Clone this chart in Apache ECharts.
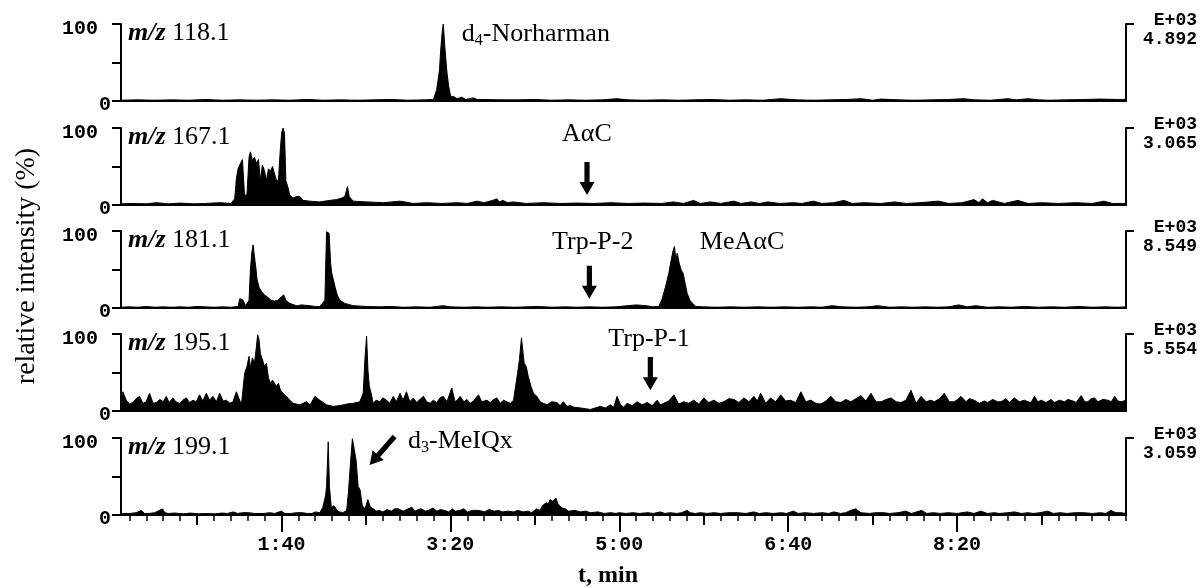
<!DOCTYPE html>
<html>
<head>
<meta charset="utf-8">
<script src="https://cdn.jsdelivr.net/npm/echarts@6/dist/echarts.min.js"></script>
<style>
  html, body { margin: 0; background: #fff; }
  #chart { width: 1202px; height: 588px; }
</style>
</head>
<body>
<div id="chart"></div>
<script>
// ---- data (time in s, relative intensity in %) ----
const mzLabels = ['118.1', '167.1', '181.1', '195.1', '199.1']
const scaleLabels = ['4.892', '3.065', '8.549', '5.554', '3.059']
const scaleExp = 'E+03'
const majorTicks = [100, 200, 300, 400, 500]
const halfTicks = [50, 150, 250, 350, 450, 550]
const minorTicks = [10, 20, 30, 40, 60, 70, 80, 90, 110, 120, 130, 140, 160, 170, 180, 190,
  210, 220, 230, 240, 260, 270, 280, 290, 310, 320, 330, 340, 360, 370, 380, 390,
  410, 420, 430, 440, 460, 470, 480, 490, 510, 520, 530, 540, 560, 570, 580, 590, 600]
const yLabelTicks = [0, 100]
const yTicks = [0, 50, 100]

const trace118 = [[5,1],[15,1.5],[25,1],[35,1.5],[45,1],[55,2],[65,1],[75,1.5],[85,1],[95,1.5],[105,1],[115,2],
  [125,1],[135,1.5],[145,1],[155,1.5],[165,2],[175,1],[185,1.5],[190,2],[191.9,15],[193.5,39],[194.3,67],
  [195.1,88],[195.8,100],[196.7,71],[197.9,39],[199,19],[200.2,6],[201.8,6],[204,3],[206.8,5],[209,2],[213.6,4],
  [216,2],[220,2],[230,1.5],[240,1.5],[250,2],[260,1],[270,1.5],[280,1],[290,1.5],[298.7,3],[305,1.5],[315,1],
  [325,1.5],[335,1],[345,1.5],[355,2],[365,1],[375,1.5],[385,1],[395.5,3],[405,1.5],[415,1],[425,1.5],[435,2],
  [443,3],[450,1],[455,2.5],[465,1.5],[475,1],[485,1.5],[495,2],[504,3],[510,1.5],[520,1],[530,3],[535,1.5],
  [542,3],[548,1.5],[555,1],[565,1.5],[575,2],[585,2.5],[595,2],[600,2]]

const trace167 = [[5,1.5],[12,2],[20,1.5],[26,3],[33,1.5],[40,2.5],[48,1.5],[55,2],[63.5,3],[70,2],[72.3,8],
  [73.3,34],[74.3,47],[75.7,54],[76.9,59],[78.2,11],[79.6,15],[80.8,62],[81.6,69],[82.8,58],[84,62],[85.2,54],
  [86.4,59],[87.5,32],[88.7,52],[89.9,45],[91.1,32],[92.3,47],[93.5,44],[94.7,50],[95.8,52],[97,32],[98.2,32],
  [99.4,75],[100.2,95],[101,100],[101.8,93],[102.6,32],[103.7,24],[104.9,13],[106.9,9],[108.9,11],[110.9,11],
  [112.8,6],[116.8,5],[122.7,4],[128.6,6],[132.6,7],[135.6,9],[137.5,11],[139.1,24],[140.1,11],[142.5,5],
  [150.4,4],[160.3,3],[170.2,5],[178,2],[186,3],[195,2],[204,3],[210,2],[215.7,5],[220,3],[225,6],[227.5,8],
  [229,4],[231,6],[234,3],[237,4],[245,2],[255,3],[265,2],[275,2.5],[285,2],[295,3],[305,2],[315,2.5],[325,2],
  [332,4],[338,2],[344,6],[348,2],[354,4],[360,2],[368,5],[372,2],[378,4],[383,2],[388,4],[395,2],[403,3],
  [408,2],[415,5],[420,2],[427,3],[433,6],[438,2],[445,3],[455,2],[463,4],[470,2],[478,3],[489,5],[495,2],
  [503,3],[510,7],[513,3],[515,8],[518,3],[521,6],[528,2],[536,6],[542,2],[550,3],[560,2],[570,3],[580,2],
  [587,5],[592,2],[600,2]]

const trace181 = [[5,1],[10,1.5],[15,1],[20,2],[25,1],[30,1.5],[35,1],[40,1.5],[45,1],[50,2],[55,1.5],[60,1],
  [65,1.5],[70,1],[74.3,2],[75.3,12],[76.9,11],[78.8,3],[80.8,10],[81.6,49],[82.4,71],[83.2,82],[84,67],
  [84.8,53],[85.5,38],[86.7,27],[88.3,21],[89.9,17],[91.9,14],[93.8,10],[95.8,9],[97.8,10],[100.2,15],
  [101.4,17],[102.6,10],[104.9,6],[108.9,3],[112,4],[116.8,3],[120,2],[122.7,2],[125.7,10],[126.7,99],
  [127.5,99],[128.2,97],[129.1,58],[129.8,45],[130.6,43],[131.8,27],[133,17],[134.6,10],[137.5,6],[142.5,3],
  [150.4,2],[158,1.5],[165,2],[172,1],[180,1.5],[188,1],[195.7,3],[200,1.5],[208,1],[215,1.5],[222,1],
  [230,1.5],[238,1],[245,1.5],[252,2],[260,1],[268,1.5],[275,1],[282,1.5],[290,1],[298,1.5],[305,3],[310,4],
  [316,3],[320,1.5],[323.4,2],[325.4,12],[327.3,27],[329.3,45],[330.7,62],[331.9,75],[332.7,80],[333.5,62],
  [334.3,71],[335.5,58],[336.7,49],[337.8,45],[339,32],[340.2,19],[341.8,10],[343.4,6],[345.3,2],[350,1.5],
  [358,1],[366,1.5],[374,1],[382,1.5],[390,1],[398,1.5],[406,1],[414,1.5],[420,1],[426,3],[432,1.5],[440,1],
  [447,1.5],[453,3],[460,1],[467,1.5],[474,1],[481,1.5],[488,1],[495,1.5],[501,4],[506,1.5],[511,3],[518,1],
  [525,1.5],[532,1],[540,2],[548,1],[556,1.5],[564,1],[572,2],[580,1],[588,1.5],[595,1],[600,1.5]]

const trace195 = [[5,14],[6.1,25],[8.1,14],[10,9],[12,11],[14,16],[16,19],[18,10],[19.9,12],[21.9,23],[24,10],
  [25.9,11],[28,15],[30,12],[31.8,19],[33.5,11],[35.7,17],[37.5,12],[39.7,10],[41.5,14],[43.7,17],[45.5,11],
  [47.6,14],[49.5,12],[51.5,21],[53.5,13],[55.5,23],[57.5,14],[59.4,19],[61.5,12],[63.4,23],[65.5,13],
  [67.4,14],[69.5,10],[71.3,12],[73.3,25],[76.3,8],[78.2,49],[79.6,58],[80.8,71],[81.6,56],[82.8,69],[84,62],
  [85.2,84],[85.9,99],[86.7,93],[87.5,75],[88.7,67],[89.9,58],[91.1,62],[92.3,43],[93.5,36],[94.7,40],
  [95.8,38],[97,32],[98.2,36],[99.4,27],[101,23],[103,19],[104.9,14],[106.9,10],[110.9,8],[114.8,12],[117,8],
  [119.8,19],[122.7,14],[126.7,8],[130.6,6],[134.6,7],[138.6,9],[142.5,10],[146.4,12],[148.4,23],[149.4,67],
  [150.4,97],[151.2,53],[152,32],[153.1,23],[154.3,10],[156,14],[158.3,12],[160,17],[162.3,14],[164,10],
  [166.2,19],[168,12],[170.2,23],[172,14],[174,25],[176,12],[178.1,17],[180,11],[182,15],[184,19],[186,12],
  [188,10],[189.9,14],[192,11],[193.8,17],[195.8,19],[198,12],[200.8,30],[202.8,12],[204,14],[205.8,19],
  [208,12],[209.8,15],[211.7,10],[213.7,13],[216.6,21],[218.6,12],[221.6,14],[223.6,11],[225.6,15],
  [227.5,17],[229.5,10],[231.5,14],[233.5,12],[235.5,10],[237.4,14],[238.6,32],[239.8,49],[240.9,67],
  [242.1,95],[242.9,93],[243.7,62],[244.9,58],[246.1,45],[247.7,32],[249.2,23],[251.2,19],[253.2,12],[255,10],
  [257.2,8],[260,12],[263.1,11],[265,7],[267,12],[269,6],[271,7],[273,5],[276.9,4],[280,3],[282.9,2],
  [285.8,4],[288.8,6],[291.8,4],[294.7,8],[296.7,5],[298.7,19],[300.7,8],[302.6,5],[304.6,10],[307.6,7],
  [310.6,12],[313.5,8],[316.5,11],[319.5,7],[322.4,14],[324.4,8],[326.3,10],[329.3,13],[332.3,21],[335.2,9],
  [338.2,12],[341.1,10],[344.1,14],[347.1,9],[350.1,17],[353,11],[356,14],[359,10],[361.9,12],[364.9,16],
  [367.9,15],[370.8,11],[373.8,17],[376.8,12],[379.7,19],[381.7,13],[383.7,23],[386.7,10],[389.6,17],
  [392.6,12],[395.6,21],[398.5,13],[401.5,14],[404.5,11],[407.5,25],[410.4,12],[413.4,14],[416.4,10],
  [419.3,9],[422.3,13],[425.3,19],[428.2,12],[431.2,11],[434.1,15],[437.1,12],[440.1,16],[443.1,20],[446,13],
  [449,23],[452,12],[455,12],[458,15],[460.9,17],[463.9,12],[466.8,11],[469.7,14],[472.7,27],[475.7,10],
  [478.7,19],[481.6,12],[484.5,14],[486.5,12],[489.5,16],[492.4,23],[495.4,12],[498.3,12],[500.3,15],
  [502.3,19],[505.3,12],[507.2,16],[510.2,14],[513.2,10],[516.1,13],[518.1,11],[521.1,15],[524,12],[526,12],
  [529,16],[531,11],[533.9,17],[536.9,12],[539.8,14],[541.9,12],[543.8,11],[545.8,19],[547.8,12],[549.8,14],
  [552.7,11],[555.6,15],[557.6,11],[560.6,14],[563.6,12],[565.6,15],[568.6,13],[570.5,11],[573.5,20],
  [575.5,12],[577.4,12],[579.4,16],[581.4,17],[583.4,12],[586.3,15],[589.3,14],[591.3,12],[593.3,19],
  [595.2,13],[597.2,12],[600,14]]

const trace199 = [[5,2],[10.2,2],[14,3],[17,6],[19,2],[21.5,2],[25,3],[29.5,8],[31,3],[32.9,2],[37,2.5],[42,1.5],
  [46,2.5],[51.1,1.5],[55,2],[60.2,1.5],[65,2.5],[68,2],[71.5,4],[74,2],[77,3],[80.6,3],[84,2],[89.7,2],[93,3],
  [96,2],[100,5],[102,2],[105.6,2],[109,3],[112.5,3],[115,2],[118.1,2],[120,4],[122.7,3],[124.5,10],[126.1,25],
  [126.7,37],[127.7,95],[128.4,37],[129.5,10],[131.1,12],[132.9,6],[134.5,4],[136.3,3],[138.6,6],[139.7,31],
  [140.9,69],[142,99],[143.1,97],[144.2,71],[145.4,37],[146.5,33],[147.9,12],[149.5,8],[151.1,20],[152.7,10],
  [154.5,8],[156,5],[157.9,6],[160,4],[162.5,7],[165,5],[167,8],[169.3,8],[172,5],[174,7],[177.2,10],[179,5],
  [181,7],[182.9,8],[185,5],[187,6],[189.7,9],[192,5],[194,7],[196.5,6],[199,4],[201.1,8],[203,5],[205.6,6],
  [208,8],[210,4],[213,6],[217,6],[220,4],[223,7],[226,5],[228.4,6],[231,4],[234,5],[237.4,4],[240,6],[243,4],
  [246,5],[248,3],[251.1,8],[253,6],[254.5,12],[256.8,16],[258,14],[259,20],[260.5,18],[262.5,22],[263.6,15],
  [264.7,12],[266,9],[268.1,8],[270,5],[273.8,6],[277,4],[280,5],[283,3],[287.4,4],[291,2],[295,3],[298,2],
  [300,3],[304,2],[308,3],[312,2],[317,3],[320,2],[324.4,4],[327,2],[330,3],[334,2],[337,3],[340.2,6],[342,3],
  [345,2],[348.1,3],[352,2],[356,3],[360,2],[365,3],[370,3],[375,2],[379.6,4],[383,2],[387,3],[391,2],[396,3],
  [399,2],[403,5],[406,2],[410,3],[415,2],[420,3],[424,2],[427,4],[431,2],[434,3],[437,6],[440,8],[443,3],
  [448,2],[452,3],[456.6,3],[460,2],[465,3],[469.6,5],[473,2],[477.5,5],[479,6],[482,2],[486,3],[490,2],
  [495,3],[500,2],[506,4],[510,2],[514,5],[518,2],[522,3],[525,2],[530,3],[534,4],[538,2],[542,3],[545,2],
  [549,3],[553.7,5],[557,2],[561,3],[565,2],[570,3],[575,3],[580,2],[585,3],[588,2],[591,6],[594,3],[597,3],
  [600,2]]

const traces = [trace118, trace167, trace181, trace195, trace199]

// annotations: text anchor and arrow (tail -> tip) in data units of each panel
const annotations = [
  { panel: 0, text: 'd{s|4}-Norharman', at: [206.8, 87], align: 'left' },
  { panel: 1, text: 'AαC', at: [280.8, 92], align: 'center', arrow: [[280.9, 56], [280.9, 13]] },
  { panel: 2, text: 'Trp-P-2', at: [284.3, 85], align: 'center', arrow: [[282.3, 55], [282.3, 12]] },
  { panel: 2, text: 'MeAαC', at: [372.7, 85], align: 'center' },
  { panel: 3, text: 'Trp-P-1', at: [317.6, 93], align: 'center', arrow: [[318.4, 70], [318.4, 27]] },
  { panel: 4, text: 'd{s|3}-MeIQx', at: [174.9, 96], align: 'left', arrow: [[167, 102], [152.2, 65]] },
]

// ---- layout ----
const T_MIN = 5, T_MAX = 600
const GRID_LEFT = 121, GRID_RIGHT = 76, PANEL_H = 77
const panelTop = [24, 128, 231, 334, 438]
const MONO = 'Liberation Mono'
const SERIF = 'Liberation Serif'
const INK = '#000'

function fmtTime(v) {
  const m = Math.floor(v / 60)
  const s = Math.round(v % 60)
  return m + ':' + (s < 10 ? '0' : '') + s
}

const chart = echarts.init(document.getElementById('chart'), null, { renderer: 'canvas' })

const grids = panelTop.map(top => ({
  left: GRID_LEFT, right: GRID_RIGHT, top, height: PANEL_H, outerBoundsMode: 'none'
}))

const xAxes = panelTop.map((_, i) => ({
  type: 'value', gridIndex: i, position: 'bottom', min: T_MIN, max: T_MAX,
  splitLine: { show: false },
  axisLine: { show: true, onZero: false, lineStyle: { color: INK, width: 2 } },
  axisTick: i === 4
    ? { show: true, customValues: majorTicks, length: 17, lineStyle: { color: INK, width: 2 } }
    : { show: false },
  axisLabel: i === 4
    ? { show: true, customValues: majorTicks, formatter: fmtTime, margin: 20,
        fontFamily: MONO, fontWeight: 'bold', fontSize: 20, color: INK }
    : { show: false },
}))
// extra bottom axes for the half and minor ticks
xAxes.push({
  type: 'value', gridIndex: 4, position: 'bottom', offset: 0, min: T_MIN, max: T_MAX,
  splitLine: { show: false }, axisLine: { show: false, onZero: false }, axisLabel: { show: false },
  axisTick: { show: true, customValues: halfTicks, length: 10, lineStyle: { color: INK, width: 2 } },
})
xAxes.push({
  type: 'value', gridIndex: 4, position: 'bottom', offset: 0, min: T_MIN, max: T_MAX,
  splitLine: { show: false }, axisLine: { show: false, onZero: false }, axisLabel: { show: false },
  axisTick: { show: true, customValues: minorTicks, length: 6, lineStyle: { color: INK, width: 1.5 } },
})

const yAxes = []
panelTop.forEach((_, i) => {
  yAxes.push({
    type: 'value', gridIndex: i, min: 0, max: 100, position: 'left',
    splitLine: { show: false },
    axisLine: { show: true, onZero: false, lineStyle: { color: INK, width: 2 } },
    axisTick: { show: true, customValues: yTicks, length: 9, lineStyle: { color: INK, width: 2 } },
    axisLabel: {
      show: true, customValues: yLabelTicks, margin: 10,
      formatter: v => v === 100 ? '{h|100}' : '{z|0}',
      fontFamily: MONO, fontWeight: 'bold', fontSize: 20, color: INK,
      rich: {
        h: { fontFamily: MONO, fontWeight: 'bold', fontSize: 20, color: INK, padding: [9, 13, 0, 0] },
        z: { fontFamily: MONO, fontWeight: 'bold', fontSize: 20, color: INK, padding: [7, 0, 0, 0] },
      },
    },
  })
  yAxes.push({
    type: 'value', gridIndex: i, min: 0, max: 100, position: 'right',
    splitLine: { show: false },
    axisLine: { show: true, onZero: false, lineStyle: { color: INK, width: 2 } },
    axisTick: { show: true, customValues: [100], length: 8, lineStyle: { color: INK, width: 2 } },
    axisLabel: { show: false },
  })
})

const series = traces.map((data, i) => ({
  type: 'line', xAxisIndex: i, yAxisIndex: i * 2, data,
  showSymbol: false, symbol: 'none', silent: true, animation: false,
  lineStyle: { color: INK, width: 1 },
  areaStyle: { color: INK, opacity: 1 },
}))

chart.setOption({
  backgroundColor: '#fff',
  animation: false,
  grid: grids,
  xAxis: xAxes,
  yAxis: yAxes,
  series,
})

// ---- text and arrows ----
function arrowPoints(p0, p1) {
  const dx = p1[0] - p0[0], dy = p1[1] - p0[1]
  const len = Math.hypot(dx, dy)
  const ux = dx / len, uy = dy / len, nx = -uy, ny = ux
  const headLen = 13, headW = 7.5, shaftW = 2.6
  const bx = p1[0] - ux * headLen, by = p1[1] - uy * headLen
  return [
    [p0[0] + nx * shaftW, p0[1] + ny * shaftW],
    [bx + nx * shaftW, by + ny * shaftW],
    [bx + nx * headW, by + ny * headW],
    p1,
    [bx - nx * headW, by - ny * headW],
    [bx - nx * shaftW, by - ny * shaftW],
    [p0[0] - nx * shaftW, p0[1] - ny * shaftW],
  ]
}

const graphics = []
const subRich = { s: { fontFamily: SERIF, fontSize: 16, lineHeight: 16, verticalAlign: 'bottom', fill: INK } }

annotations.forEach(a => {
  const p = chart.convertToPixel({ seriesIndex: a.panel }, a.at)
  graphics.push({
    type: 'text', x: p[0], y: p[1], silent: true,
    style: {
      text: a.text, font: '26px "' + SERIF + '"', fill: INK, lineHeight: 30,
      textAlign: a.align, textVerticalAlign: 'middle', rich: subRich,
    },
  })
  if (a.arrow) {
    const p0 = chart.convertToPixel({ seriesIndex: a.panel }, a.arrow[0])
    const p1 = chart.convertToPixel({ seriesIndex: a.panel }, a.arrow[1])
    graphics.push({ type: 'polygon', silent: true, shape: { points: arrowPoints(p0, p1) }, style: { fill: INK } })
  }
})

panelTop.forEach((top, i) => {
  graphics.push({
    type: 'text', x: GRID_LEFT + 7, y: top + 9, silent: true,
    style: {
      text: '{i|m/z} ' + mzLabels[i], font: '26px "' + SERIF + '"', fill: INK,
      textAlign: 'left', textVerticalAlign: 'middle',
      rich: { i: { fontFamily: SERIF, fontSize: 26, fontStyle: 'italic', fontWeight: 'bold', fill: INK } },
    },
  })
  graphics.push({
    type: 'text', x: 1197, y: top - 4, silent: true,
    style: { text: scaleExp, font: 'bold 18px "' + MONO + '"', fill: INK, textAlign: 'right', textVerticalAlign: 'middle' },
  })
  graphics.push({
    type: 'text', x: 1197, y: top + 15, silent: true,
    style: { text: scaleLabels[i], font: 'bold 18px "' + MONO + '"', fill: INK, textAlign: 'right', textVerticalAlign: 'middle' },
  })
})

graphics.push({
  type: 'text', x: 27, y: 266, rotation: Math.PI / 2, silent: true,
  style: { text: 'relative intensity (%)', font: '28px "' + SERIF + '"', fill: INK, textAlign: 'center', textVerticalAlign: 'middle' },
})
graphics.push({
  type: 'text', x: 608, y: 576, silent: true,
  style: { text: 't, min', font: 'bold 24px "' + SERIF + '"', fill: INK, textAlign: 'center', textVerticalAlign: 'middle' },
})

chart.setOption({ graphic: graphics })
</script>
</body>
</html>
